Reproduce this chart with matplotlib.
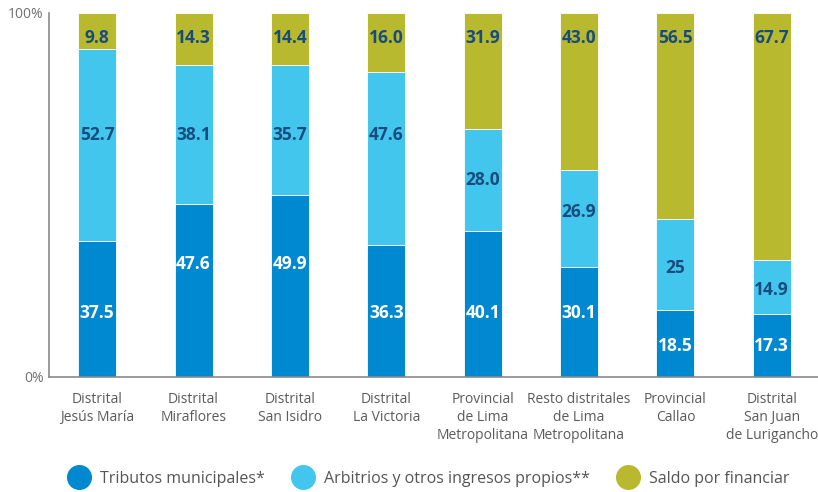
import matplotlib
matplotlib.use("Agg")
import matplotlib.pyplot as plt
from matplotlib.lines import Line2D
import numpy as np

plt.rcParams['font.family'] = ['Open Sans', 'DejaVu Sans']

categories = [
    "Distrital\nJesús María",
    "Distrital\nMiraflores",
    "Distrital\nSan Isidro",
    "Distrital\nLa Victoria",
    "Provincial\nde Lima\nMetropolitana",
    "Resto distritales\nde Lima\nMetropolitana",
    "Provincial\nCallao",
    "Distrital\nSan Juan\nde Lurigancho",
]
tributos = [37.5, 47.6, 49.9, 36.3, 40.1, 30.1, 18.5, 17.3]
arbitrios = [52.7, 38.1, 35.7, 47.6, 28.0, 26.9, 25.0, 14.9]
saldo = [9.8, 14.3, 14.4, 16.0, 31.9, 43.0, 56.5, 67.7]
arbitrios_labels = ["52.7", "38.1", "35.7", "47.6", "28.0", "26.9", "25", "14.9"]
series_names = ["Tributos municipales*", "Arbitrios y otros ingresos propios**", "Saldo por financiar"]

c_trib = "#0089D1"
c_arb = "#43C6EE"
c_sal = "#B8B92E"
c_lab = "#174C7E"

fig = plt.figure(figsize=(8.18, 4.92), dpi=100)
ax = fig.add_axes([49 / 818, 1 - 377 / 492, (818 - 49) / 818, (377 - 13) / 492])

x = np.arange(len(categories))
w = 0.395
t = np.array(tributos)
a = np.array(arbitrios)
s = np.array(saldo)
ax.bar(x, t, w, color=c_trib, edgecolor="white", linewidth=0.6)
ax.bar(x, a, w, bottom=t, color=c_arb, edgecolor="white", linewidth=0.6)
ax.bar(x, s, w, bottom=t + a, color=c_sal, edgecolor="white", linewidth=0.6)

# label heights within each bar (percent of axis)
y_bottom = [17.6, 31.0, 31.0, 17.6, 17.6, 17.6, 8.5, 8.5]
y_middle = [66.5, 66.5, 66.5, 66.5, 54.1, 45.3, 29.9, 23.9]
y_top = 93.1

for i in range(len(categories)):
    ax.text(x[i], y_bottom[i], f"{tributos[i]:.1f}", ha="center", va="center",
            color="white", fontsize=12.5, fontweight="bold")
    ax.text(x[i], y_middle[i], arbitrios_labels[i], ha="center", va="center",
            color=c_lab, fontsize=12.5, fontweight="bold")
    ax.text(x[i], y_top, f"{saldo[i]:.1f}", ha="center", va="center",
            color=c_lab, fontsize=12.5, fontweight="bold")

ax.set_xlim(-0.5, 7.48)
ax.set_ylim(0, 100)
ax.set_yticks([0, 100])
ax.set_yticklabels(["0%", "100%"], color="#707070", fontsize=10)
ax.set_xticks(x)
ax.set_xticklabels(categories, color="#5a5a5a", fontsize=10, linespacing=1.25,
                   va="top")
ax.tick_params(axis="both", length=0)
ax.tick_params(axis="x", pad=11)
ax.tick_params(axis="y", pad=4)
for side in ["top", "right"]:
    ax.spines[side].set_visible(False)
ax.spines["left"].set_color("#8a8a8a")
ax.spines["bottom"].set_color("#8a8a8a")
ax.spines["left"].set_linewidth(1.2)
ax.spines["bottom"].set_linewidth(1.2)

handles = [Line2D([], [], marker="o", linestyle="none", markersize=17,
                  markerfacecolor=c, markeredgecolor=c)
           for c in (c_trib, c_arb, c_sal)]
fig.legend(handles, series_names, loc="center", bbox_to_anchor=(426 / 818, 1 - 479 / 492),
           ncol=3, frameon=False, fontsize=11.5, handletextpad=0.3,
           columnspacing=1.4, labelcolor="#555555")

fig.savefig("out.png", dpi=100)
